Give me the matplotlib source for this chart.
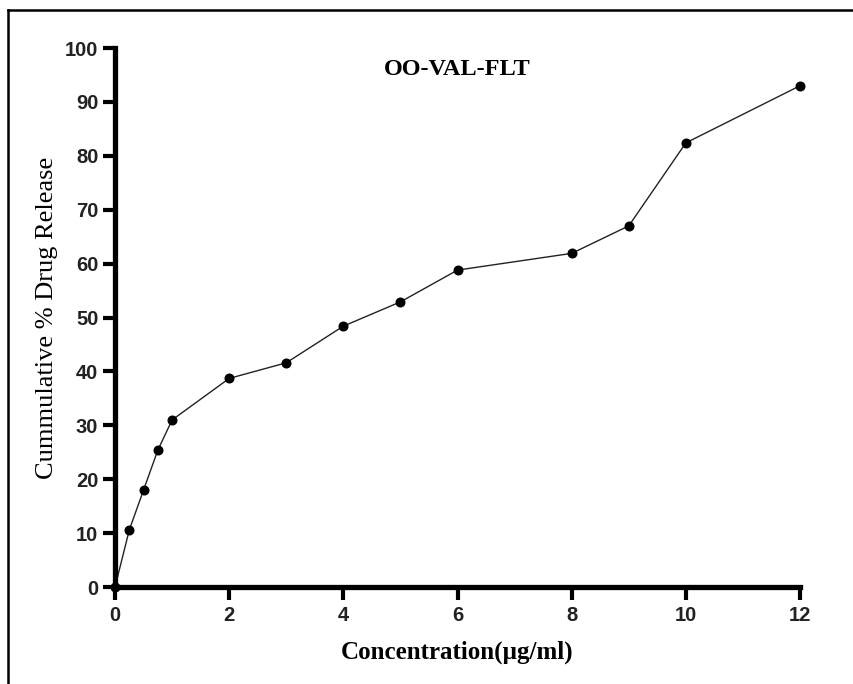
import numpy as np
import matplotlib.pyplot as plt
from matplotlib.lines import Line2D

# release profile data
conc = [0, 0.25, 0.5, 0.75, 1, 2, 3, 4, 5, 6, 8, 9, 10, 12]
release = [0, 10.6, 18.0, 25.4, 31.0, 38.7, 41.6, 48.4, 52.9, 58.8, 61.9, 67.0, 82.4, 93.0]
xticks = [0, 2, 4, 6, 8, 10, 12]
yticks = [0, 10, 20, 30, 40, 50, 60, 70, 80, 90, 100]

fig = plt.figure(figsize=(8.54, 6.84), dpi=100)
ax = fig.add_axes([0.1347, 0.1418, 0.8021, 0.7880])

ax.plot(conc, release, color='#222222', linewidth=1.0, marker='o',
        markersize=6.2, markerfacecolor='black', markeredgecolor='black', clip_on=False)

ax.set_xlim(0, 12)
ax.set_ylim(0, 100)
ax.set_xticks(xticks)
ax.set_yticks(yticks)

for s in ['top', 'right']:
    ax.spines[s].set_visible(False)
for s in ['left', 'bottom']:
    ax.spines[s].set_linewidth(3.8)

ax.tick_params(direction='out', length=9, width=3, pad=3)
ax.tick_params(axis='x', pad=5)
for lab in ax.get_xticklabels() + ax.get_yticklabels():
    lab.set_fontfamily('Liberation Sans')
    lab.set_fontweight('bold')
    lab.set_fontsize(14.5)
    lab.set_color('#222222')

ax.set_xlabel('Concentration(µg/ml)', fontfamily='Liberation Serif', fontweight='bold',
              fontsize=18, labelpad=11)
ax.set_ylabel('Cummulative % Drug Release', fontfamily='Liberation Serif',
              fontsize=19, labelpad=5)
ax.text(0.5, 0.96, 'OO-VAL-FLT', transform=ax.transAxes, ha='center', va='center',
        fontfamily='Liberation Serif', fontweight='bold', fontsize=17.5)

# frame around the picture (only left and top edges visible)
fig.add_artist(Line2D([0.0094, 0.0094], [0.0, 0.985], transform=fig.transFigure,
                      color='black', linewidth=1.8))
fig.add_artist(Line2D([0.0094, 1.0], [0.985, 0.985], transform=fig.transFigure,
                      color='black', linewidth=1.8))

fig.savefig('out.png', dpi=100)
